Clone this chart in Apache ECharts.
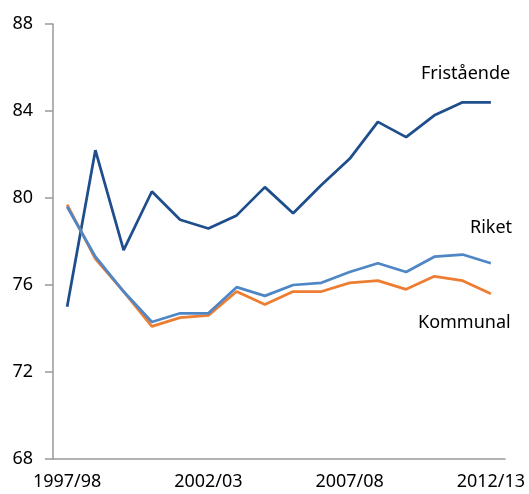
<!DOCTYPE html>
<html>
<head>
<meta charset="utf-8">
<script src="https://cdn.jsdelivr.net/npm/echarts@6/dist/echarts.min.js"></script>
<style>
  html, body { margin: 0; padding: 0; background: #fff; }
  #chart { width: 529px; height: 494px; }
</style>
</head>
<body>
<div id="chart"></div>
<script>
var years = ['1997/98', '1998/99', '1999/00', '2000/01', '2001/02', '2002/03', '2003/04', '2004/05',
  '2005/06', '2006/07', '2007/08', '2008/09', '2009/10', '2010/11', '2011/12', '2012/13'];
var fristaende = [75.0, 82.2, 77.6, 80.3, 79.0, 78.6, 79.2, 80.5, 79.3, 80.6, 81.8, 83.5, 82.8, 83.8, 84.4, 84.4];
var riket = [79.6, 77.3, 75.7, 74.3, 74.7, 74.7, 75.9, 75.5, 76.0, 76.1, 76.6, 77.0, 76.6, 77.3, 77.4, 77.0];
var kommunal = [79.7, 77.2, 75.7, 74.1, 74.5, 74.6, 75.7, 75.1, 75.7, 75.7, 76.1, 76.2, 75.8, 76.4, 76.2, 75.6];

var font = 'Noto Sans';
var chart = echarts.init(document.getElementById('chart'));

function line(name, data, color) {
  return {
    name: name,
    type: 'line',
    data: data,
    symbol: 'none',
    animation: false,
    lineStyle: { color: color, width: 2.75 },
    itemStyle: { color: color }
  };
}

chart.setOption({
  backgroundColor: '#fff',
  grid: { left: 53, right: 24, top: 24, bottom: 35 },
  xAxis: {
    type: 'category',
    data: years,
    boundaryGap: true,
    axisLine: { lineStyle: { color: '#999', width: 1.5 } },
    axisTick: { length: 5, lineStyle: { color: '#999', width: 1.5 } },
    axisLabel: {
      interval: 4,
      margin: 14,
      color: '#000',
      fontFamily: font,
      fontSize: 18
    },
    splitLine: { show: false }
  },
  yAxis: {
    type: 'value',
    min: 68,
    max: 88,
    interval: 4,
    axisLine: { show: true, lineStyle: { color: '#999', width: 1.5 } },
    axisTick: { show: true, length: 8, lineStyle: { color: '#999', width: 1.5 } },
    axisLabel: {
      margin: 20,
      color: '#000',
      fontFamily: font,
      fontSize: 18
    },
    splitLine: { show: false }
  },
  graphic: [
    { type: 'text', left: 421, top: 65, style: { text: 'Fristående', fill: '#000', font: '18px "Noto Sans"' } },
    { type: 'text', left: 470, top: 219, style: { text: 'Riket', fill: '#000', font: '18px "Noto Sans"' } },
    { type: 'text', left: 418, top: 314, style: { text: 'Kommunal', fill: '#000', font: '18px "Noto Sans"' } }
  ],
  series: [
    line('Fristående', fristaende, '#1F4E8C'),
    line('Kommunal', kommunal, '#ED7D31'),
    line('Riket', riket, '#4F86C6')
  ]
});
</script>
</body>
</html>
